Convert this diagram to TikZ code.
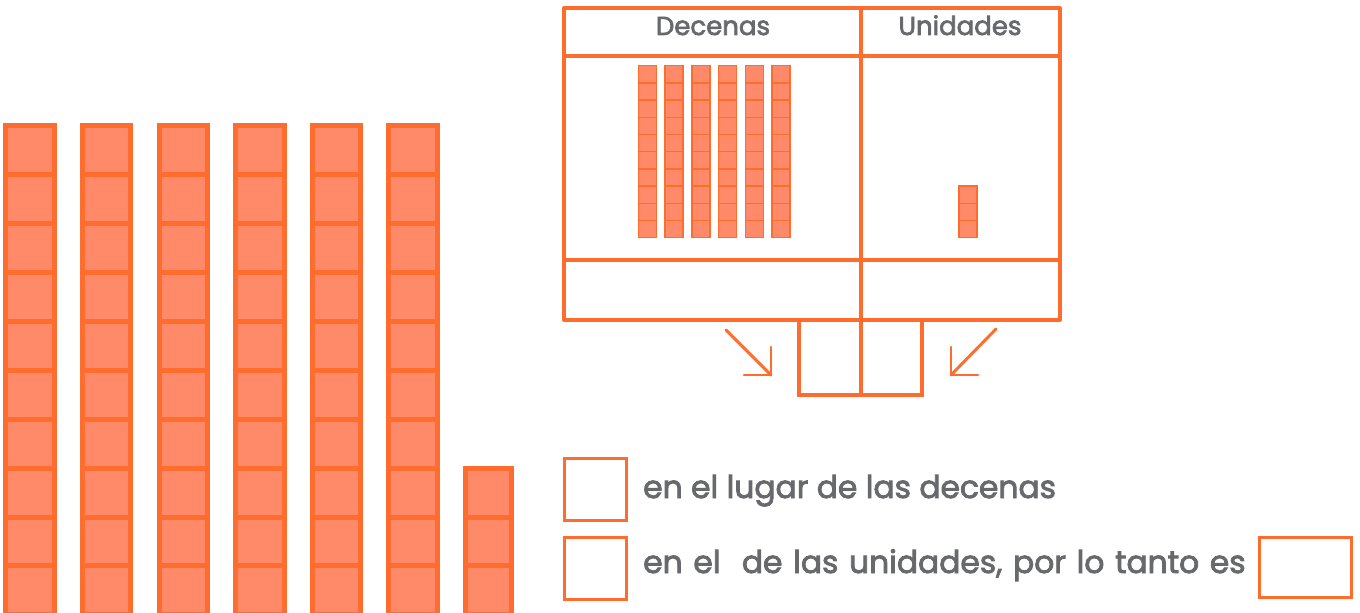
\documentclass[tikz,border=0pt]{standalone}
\usepackage{fontspec}
\setmainfont{Poppins}[FakeBold=2.6]
\definecolor{oline}{HTML}{FF6D2E}
\definecolor{ofill}{HTML}{FF8A6A}
\definecolor{txt}{HTML}{68696D}
\begin{document}
\begin{tikzpicture}[x=0.75pt,y=-0.75pt,
  bigcube/.style={draw=oline,fill=ofill,line width=3.75pt},
  smallcube/.style={draw=oline,fill=ofill,line width=1.1pt},
  tline/.style={draw=oline,line width=3pt},
  ansbox/.style={draw=oline,line width=2.2pt,minimum width=46.5pt,minimum height=46.5pt,inner sep=0pt,anchor=north west},
  arr/.style={draw=oline,line width=2.2pt},
  lbl/.style={text=txt,font=\fontsize{23.5}{27}\selectfont,inner sep=0pt,anchor=base west},
  head/.style={text=txt,font=\fontsize{19.5}{24}\selectfont,inner sep=0pt,anchor=base}]
\useasboundingbox (0,0) rectangle (1360,613);
% big tens rods
\foreach \i in {0,...,5}{
  \foreach \j in {0,...,9}{
    \path[bigcube] ({5.8+76.6*\i},{125.8+48.9*\j}) rectangle ++(48.4,48.9);
  }
}
% big units
\foreach \j in {7,8,9}{
  \path[bigcube] (465.2,{125.8+48.9*\j}) rectangle ++(46.5,48.9);
}
% table
\coordinate (TL) at (564,8);
\coordinate (BR) at (1060,320);
\path[tline,line join=round] (TL) rectangle (BR);
\path[tline] (564,56) -- (1060,56);
\path[tline] (564,260) -- (1060,260);
\path[tline] (861,8) -- (861,395);
\node[head] (dec) at (713,35) {Decenas};
\node[head] (uni) at (960,35) {Unidades};
% small rods
\foreach \i in {0,...,5}{
  \foreach \j in {0,...,9}{
    \path[smallcube] ({638.5+26.7*\i},{65.7+17.2*\j}) rectangle ++(18,17.2);
  }
}
\foreach \j in {7,8,9}{
  \path[smallcube] (959,{65.7+17.2*\j}) rectangle ++(18,17.2);
}
% result boxes
\path[tline] (798.5,320) -- (798.5,395) -- (921.5,395) -- (921.5,320);
% arrows
\coordinate (la1) at (726,330);
\coordinate (la2) at (771,375);
\path[arr,line cap=round] (la1) -- (la2);
\path[arr,line cap=round,line join=miter] (744,375) -- (la2) -- (771,347);
\coordinate (ra1) at (996,329);
\coordinate (ra2) at (951,375);
\path[arr,line cap=round] (ra1) -- (ra2);
\path[arr,line cap=round,line join=miter] (978,375) -- (ra2) -- (951,347);
% sentence boxes
\node[ansbox] (b1) at (562.7,457.3) {};
\node[ansbox] (b2) at (562.7,535.7) {};
\node[ansbox,minimum width=69pt,minimum height=45pt] (b3) at (1258,536) {};
\node[lbl] (t1) at (643,498) {en el lugar de las decenas};
\node[lbl] (t2) at (643,573) {\spaceskip=8pt\relax en el\ \ de las unidades, por lo tanto es};
\end{tikzpicture}
\end{document}
